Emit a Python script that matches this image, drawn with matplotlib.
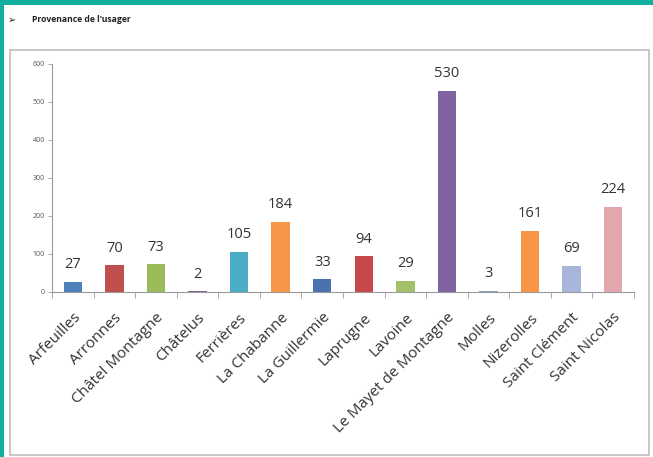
import matplotlib
matplotlib.use("Agg")
import matplotlib.pyplot as plt
from matplotlib.patches import Rectangle
from matplotlib.ticker import FixedLocator
import numpy as np

communes = ["Arfeuilles", "Arronnes", "Châtel Montagne", "Châtelus", "Ferrières",
            "La Chabanne", "La Guillermie", "Laprugne", "Lavoine",
            "Le Mayet de Montagne", "Molles", "Nizerolles", "Saint Clément",
            "Saint Nicolas"]
usagers = [27, 70, 73, 2, 105, 184, 33, 94, 29, 530, 3, 161, 69, 224]
bar_colors = ["#4F81BD", "#C0504D", "#9BBB59", "#8064A2", "#4BACC6", "#F79646",
              "#4A72AE", "#C8474A", "#A5C06A", "#8064A2", "#8FA3B8", "#F79646",
              "#A9B5DA", "#E2A6AC"]
y_ticks = [0, 100, 200, 300, 400, 500, 600]
title = "Provenance de l'usager"

W, H = 653, 457
fig = plt.figure(figsize=(W / 100, H / 100), dpi=100)
fig.patch.set_facecolor("white")

# teal frame on the left and top edges
teal = "#12AE9E"
fig.add_artist(Rectangle((0, 0), 4 / W, 1, transform=fig.transFigure,
                         facecolor=teal, edgecolor="none"))
fig.add_artist(Rectangle((0, 1 - 5 / H), 1, 5 / H, transform=fig.transFigure,
                         facecolor=teal, edgecolor="none"))

# grey chart box
fig.add_artist(Rectangle((10 / W, 2 / H), (649 - 10) / W, (455 - 50) / H,
                         transform=fig.transFigure, facecolor="none",
                         edgecolor="#BDBDBD", linewidth=1.2))

fig.text(8 / W, 1 - 20 / H, "➢", fontsize=7, color="#222222",
         family=["DejaVu Sans"], va="center")
fig.text(32 / W, 1 - 20 / H, title, fontsize=6.2, fontweight="bold",
         color="#222222", family=["Open Sans", "DejaVu Sans"], va="center")

ax = fig.add_axes([52 / W, (H - 292) / H, (634 - 52) / W, (292 - 64) / H])
x = np.arange(len(communes))
ax.bar(x, usagers, width=0.44, color=bar_colors, zorder=3)

for xi, v in zip(x, usagers):
    ax.annotate(str(v), (xi, v), xytext=(0, 7), textcoords="offset points",
                ha="center", va="bottom", fontsize=10.5, color="#333333",
                family="Open Sans")

ax.set_xlim(-0.5, len(communes) - 0.5)
ax.set_ylim(0, 600)
ax.set_yticks(y_ticks)
ax.set_yticklabels([str(t) for t in y_ticks], fontsize=5, color="#555555",
                   family="Open Sans")
ax.tick_params(axis="y", length=3, width=0.6, color="#9A9A9A", pad=2)

ax.set_xticks(x)
ax.set_xticklabels(communes, rotation=45, ha="right", rotation_mode="anchor",
                   fontsize=11, color="#333333", family="Open Sans")
ax.tick_params(axis="x", which="major", length=0, pad=13)
ax.xaxis.set_minor_locator(FixedLocator(np.arange(-0.5, len(communes), 1.0)))
ax.tick_params(axis="x", which="minor", length=4, width=0.6, color="#9A9A9A")

for side in ("top", "right"):
    ax.spines[side].set_visible(False)
ax.spines["left"].set_color("#9A9A9A")
ax.spines["left"].set_linewidth(0.8)
ax.spines["bottom"].set_color("#9A9A9A")
ax.spines["bottom"].set_linewidth(0.8)
ax.set_facecolor("white")

fig.savefig("out.png", dpi=100, facecolor="white")
